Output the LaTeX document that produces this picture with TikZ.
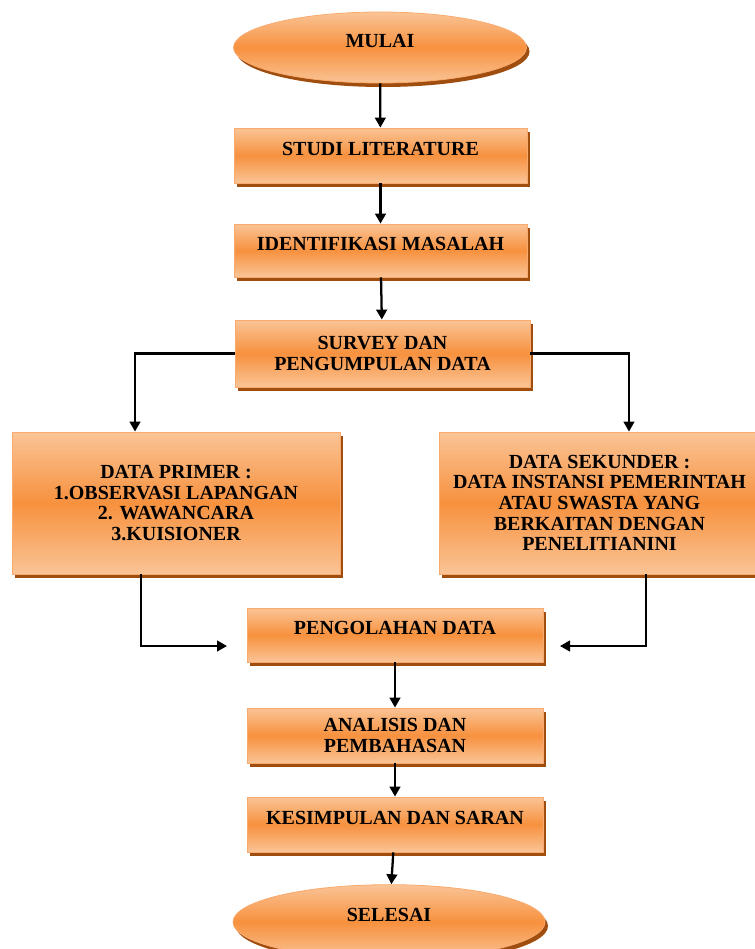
\documentclass[tikz,border=0pt]{standalone}
\usepackage{fontspec}
\setmainfont{Liberation Serif}
\usetikzlibrary{shapes.geometric,shadows,arrows.meta}
\definecolor{oranyeterang}{RGB}{250,196,150}
\definecolor{oranyetua}{RGB}{247,145,62}
\definecolor{bayangan}{RGB}{160,78,16}
\definecolor{garistepi}{RGB}{249,170,110}
\begin{document}
\begin{tikzpicture}[x=0.75pt,y=-0.75pt,
	kotakstyle/.style={rectangle,draw=garistepi,line width=0.6pt,top color=oranyeterang,bottom color=oranyeterang,middle color=oranyetua,drop shadow={shadow xshift=2.25pt,shadow yshift=-3pt,fill=bayangan,opacity=1},align=center,inner sep=2pt,font=\fontsize{15}{15.5}\selectfont\bfseries},
	elipsstyle/.style={kotakstyle,ellipse,inner sep=0pt},
	naik/.style={text depth=10pt},
	panah/.style={-{Triangle[width=8pt,length=7.5pt]},line width=1.7pt}]
				\useasboundingbox (0,0) rectangle (755,949);
				\clip (0,0) rectangle (755,949);
				
				\node [elipsstyle,naik,minimum width=219.75pt,minimum height=53.25pt] (mulai) at (380,47.5) {MULAI};
				\node [kotakstyle,naik,minimum width=219.75pt,minimum height=41.25pt] (studi) at (380.5,155.5) {STUDI LITERATURE};
				\node [kotakstyle,naik,minimum width=219.75pt,minimum height=39.75pt] (identifikasi) at (380.5,250.5) {IDENTIFIKASI MASALAH};
				\node [kotakstyle,minimum width=221.25pt,minimum height=50.25pt] (survey) at (382.5,353.5) {SURVEY DAN\\PENGUMPULAN DATA};
				\node [kotakstyle,minimum width=246pt,minimum height=106.5pt] (primer) at (176,503) {DATA PRIMER :\\1.OBSERVASI LAPANGAN\\2. WAWANCARA\\3.KUISIONER};
				\node [kotakstyle,minimum width=240.75pt,minimum height=106.5pt] (sekunder) at (599.5,503) {DATA SEKUNDER :\\DATA INSTANSI PEMERINTAH\\ATAU SWASTA YANG\\BERKAITAN DENGAN\\PENELITIANINI};
				\node [kotakstyle,naik,minimum width=222pt,minimum height=40.5pt] (pengolahan) at (395,635) {PENGOLAHAN DATA};
				\node [kotakstyle,minimum width=222pt,minimum height=41.25pt] (analisis) at (395,735.5) {ANALISIS DAN\\PEMBAHASAN};
				\node [kotakstyle,naik,minimum width=222pt,minimum height=41.25pt] (kesimpulan) at (395,824.5) {KESIMPULAN DAN SARAN};
				\node [elipsstyle,naik,minimum width=234pt,minimum height=56pt] (selesai) at (389,922) {SELESAI};
				
				\coordinate (ujungkiri) at (227,646);
				\coordinate (ujungkanan) at (560,646);
				
				\foreach \a/\b in {mulai/studi,studi/identifikasi,identifikasi/survey,pengolahan/analisis,analisis/kesimpulan,kesimpulan/selesai}
				\draw[panah] (\a)--(\b);
				
				\draw[panah] (survey.west) -| ([xshift=-30.75pt]primer.north);
				\draw[panah] (survey.east) -| ([xshift=22.1pt]sekunder.north);
				\draw[panah] ([xshift=-26.25pt]primer.south) |- (ujungkiri);
				\draw[panah] ([xshift=34.9pt]sekunder.south) |- (ujungkanan);
				
			\end{tikzpicture}
\end{document}
